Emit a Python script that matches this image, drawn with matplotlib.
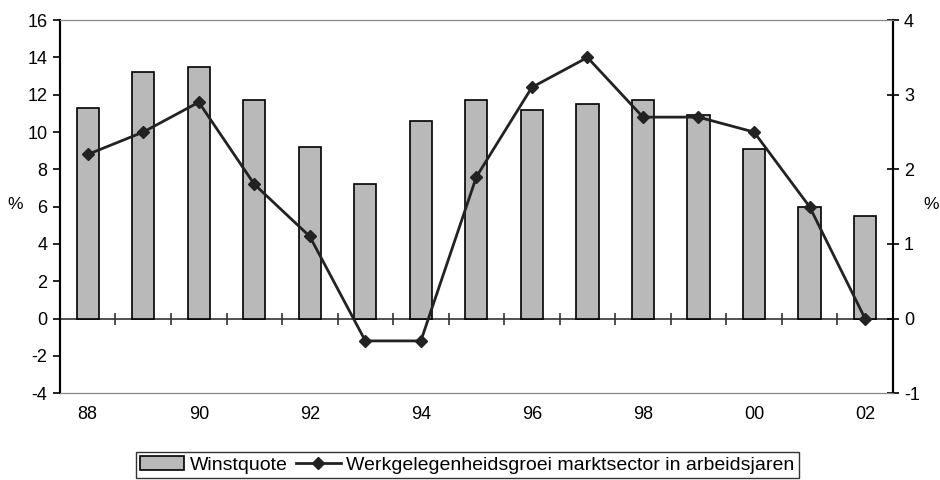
import numpy as np
import matplotlib
matplotlib.use("Agg")
import matplotlib.pyplot as plt
from matplotlib.patches import Patch
from matplotlib.lines import Line2D

plt.rcParams['font.family'] = ['Liberation Sans', 'DejaVu Sans']
plt.rcParams['axes.unicode_minus'] = False

# data
years = ['88', '89', '90', '91', '92', '93', '94', '95', '96', '97', '98', '99', '00', '01', '02']
winstquote = [11.3, 13.2, 13.5, 11.7, 9.2, 7.2, 10.6, 11.7, 11.2, 11.5, 11.7, 10.9, 9.1, 6.0, 5.5]
werkgelegenheid = [2.2, 2.5, 2.9, 1.8, 1.1, -0.3, -0.3, 1.9, 3.1, 3.5, 2.7, 2.7, 2.5, 1.5, 0.0]

x = np.arange(len(years))

fig = plt.figure(figsize=(9.4, 4.8), dpi=100)
ax = fig.add_axes([0.0638, 0.181, 0.886, 0.777])
ax2 = ax.twinx()

ax.bar(x, winstquote, width=0.4, color='#b9b9b9', edgecolor='black', linewidth=1.2, zorder=2)
ax2.plot(x, werkgelegenheid, color='#222222', linewidth=2, marker='D', markersize=6,
         markerfacecolor='#222222', zorder=3)

ax.set_xlim(-0.5, len(years) - 0.5)
ax.set_ylim(-4, 16)
ax2.set_ylim(-1, 4)
ax.set_yticks(np.arange(-4, 17, 2))
ax2.set_yticks(np.arange(-1, 5, 1))

# category labels every other year, at the bottom
ax.set_xticks(x[::2])
ax.set_xticklabels(years[::2])
ax.tick_params(axis='x', length=0, pad=9, labelsize=13)
ax.tick_params(axis='y', direction='out', length=5, width=1.2, labelsize=13, pad=4)
ax2.tick_params(axis='y', direction='inout', length=8, width=1.2, labelsize=13, pad=4)

# zero line with category separators
ax.axhline(0, color='#333333', linewidth=1.2, zorder=1)
zero_pos = (0 - ax.get_ylim()[0]) / (ax.get_ylim()[1] - ax.get_ylim()[0])
sec = ax.secondary_xaxis(zero_pos)
sec.set_xticks(x[:-1] + 0.5)
sec.set_xticklabels([])
sec.tick_params(axis='x', direction='inout', length=8, width=1.2, color='#333333')
sec.spines['bottom'].set_visible(False)
sec.spines['top'].set_visible(False)

for a in (ax, ax2):
    a.spines['top'].set_color('#888888')
    a.spines['bottom'].set_color('#888888')
    a.spines['left'].set_linewidth(1.5)
    a.spines['right'].set_linewidth(1.5)

fig.text(0.016, 0.573, '%', fontsize=12.5, ha='center', va='center')
fig.text(0.9905, 0.573, '%', fontsize=12.5, ha='center', va='center')

handles = [Patch(facecolor='#b9b9b9', edgecolor='black', linewidth=1.2),
           Line2D([], [], color='#222222', linewidth=2, marker='D', markersize=6)]
labels = ['Winstquote', 'Werkgelegenheidsgroei marktsector in arbeidsjaren']
leg = fig.legend(handles, labels, loc='center', bbox_to_anchor=(0.497, 0.031), ncol=2,
                 fontsize=14, frameon=True, fancybox=False, edgecolor='black',
                 handlelength=2.3, handletextpad=0.3, columnspacing=0.4,
                 borderpad=0.2, borderaxespad=0)
leg.get_frame().set_linewidth(1.0)

plt.savefig('out.png', dpi=100)
